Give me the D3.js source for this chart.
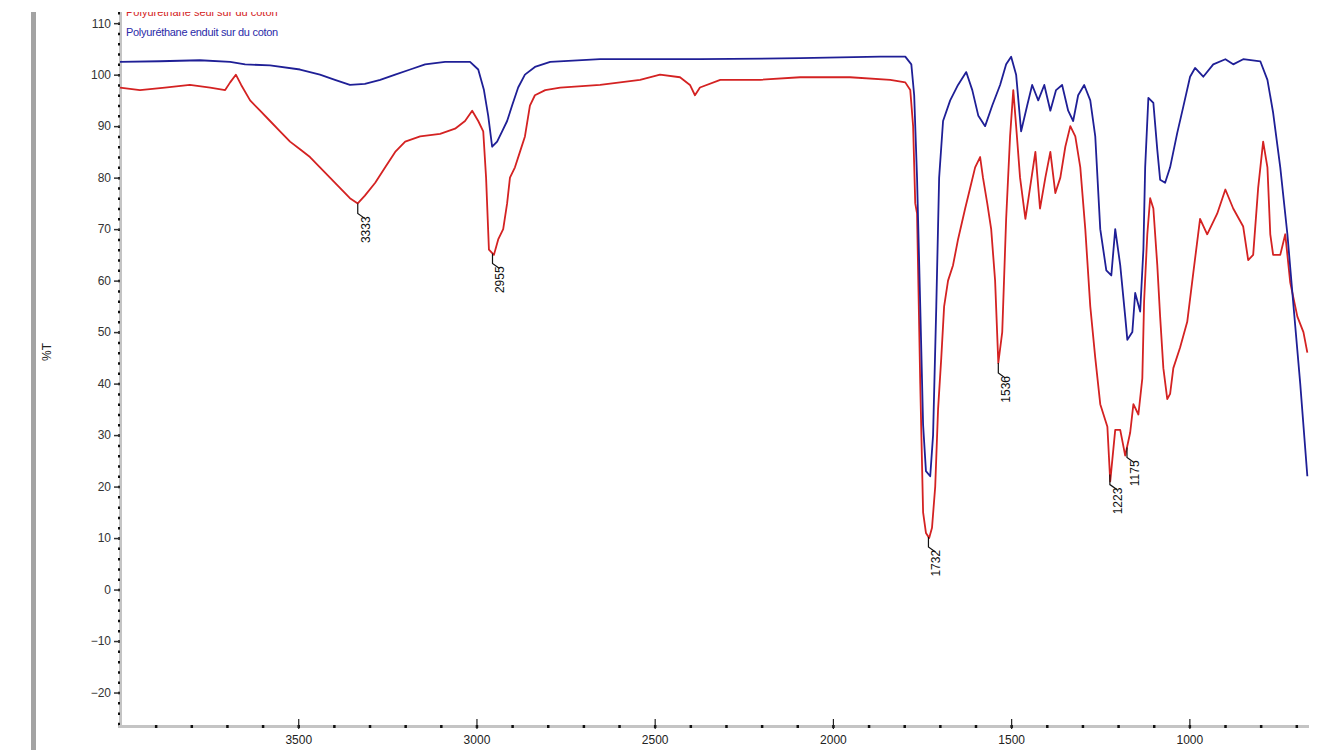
<!DOCTYPE html>
<html>
<head>
<meta charset="utf-8">
<script src="https://cdn.jsdelivr.net/npm/d3@7"></script>
<style>
  html, body { margin: 0; padding: 0; background: #fff; }
  svg { display: block; font-family: "Liberation Sans", Arial, sans-serif; }
</style>
</head>
<body>
<div id="chart"></div>
<script>
// wavenumbers (cm-1) and %T
const waveBlue = [4000, 3888, 3776, 3691, 3649, 3579, 3495, 3439, 3397, 3355, 3313, 3270, 3228, 3186, 3144, 3088, 3018,
  2995, 2979, 2967, 2956, 2942, 2928, 2914, 2900, 2883, 2864, 2836, 2793, 2653, 2373, 2092, 1867, 1797, 1780, 1772,
  1764, 1755, 1747, 1739, 1727, 1719, 1710, 1702, 1691, 1671, 1649, 1626, 1609, 1592, 1573, 1553, 1531, 1514, 1500,
  1486, 1472, 1455, 1441, 1424, 1407, 1390, 1374, 1357, 1340, 1326, 1312, 1295, 1278, 1264, 1250, 1233, 1219, 1208,
  1194, 1180, 1174, 1160, 1152, 1138, 1129, 1124, 1115, 1101, 1090, 1082, 1068, 1054, 1034, 1017, 998, 984, 961,
  933, 899, 877, 849, 801, 781, 765, 745, 725, 709, 689, 669];
const tBlue = [102.5, 102.6, 102.8, 102.5, 102, 101.8, 101, 100, 99, 98, 98.2, 99, 100, 101, 102, 102.5, 102.5,
  101, 97, 92, 86, 87, 89, 91, 94, 97.5, 100, 101.5, 102.5, 103, 103, 103.2, 103.5, 103.5, 102, 96,
  80, 55, 32, 23, 22, 30, 55, 80, 91, 95, 98, 100.5, 97, 92, 90, 94, 98, 102, 103.5,
  100, 89, 94, 98, 95, 98, 93, 97, 98, 93, 91, 96, 98, 95, 88, 70, 62, 61, 70,
  63, 53, 48.5, 50, 57.6, 54, 66, 82, 95.5, 94.5, 85.4, 79.6, 79, 82, 88.7, 93.8, 99.6, 101.3, 99.6,
  102, 103, 102, 103, 102.6, 99, 92.6, 82, 69, 56, 40, 22];

const waveRed = [4000, 3944, 3874, 3804, 3747, 3705, 3691, 3675, 3660, 3635, 3607, 3579, 3551, 3523, 3495, 3467, 3439,
  3411, 3383, 3355, 3333, 3313, 3284, 3256, 3228, 3200, 3158, 3102, 3060, 3032, 3012, 2995, 2981, 2973, 2965, 2951,
  2939, 2925, 2914, 2906, 2892, 2878, 2864, 2850, 2836, 2807, 2765, 2653, 2541, 2485, 2429, 2401, 2387, 2373, 2316,
  2204, 2092, 1952, 1839, 1797, 1783, 1775, 1769, 1764, 1755, 1747, 1739, 1730, 1722, 1713, 1705, 1696, 1688, 1677,
  1663, 1649, 1629, 1615, 1601, 1587, 1579, 1567, 1556, 1545, 1536, 1525, 1514, 1503, 1494, 1486, 1475, 1460, 1447,
  1432, 1419, 1404, 1390, 1376, 1362, 1348, 1334, 1320, 1306, 1292, 1278, 1264, 1250, 1230, 1222, 1208, 1194, 1180,
  1166, 1157, 1143, 1132, 1127, 1118, 1110, 1101, 1090, 1082, 1073, 1062, 1054, 1045, 1026, 1006, 989, 970, 950, 922,
  899, 877, 849, 835, 821, 807, 793, 781, 773, 765, 745, 731, 717, 697, 680, 669];
const tRed = [97.5, 97, 97.5, 98, 97.5, 97, 98.5, 100, 98, 95, 93, 91, 89, 87, 85.5, 84, 82,
  80, 78, 76, 75, 76.5, 79, 82, 85, 87, 88, 88.5, 89.5, 91, 93, 91, 89, 80, 66, 65,
  68, 70, 75, 80, 82, 85, 88, 94, 96, 97, 97.5, 98, 99, 100, 99.5, 98, 96, 97.5, 99,
  99, 99.5, 99.5, 99, 98.5, 97, 90, 75, 73, 40, 15, 11, 10, 12, 20, 35, 45, 55, 60,
  63, 68, 74, 78, 82, 84, 80, 75, 70, 60, 44, 50, 72, 88, 97, 90, 80, 72, 78,
  85, 74, 80, 85, 77, 80, 86, 90, 88, 82, 70, 55, 45, 36, 31.6, 21, 31, 31, 26,
  30.5, 36, 34, 41, 56, 69, 76, 74, 63, 53, 43, 37, 38, 43, 47, 52, 61.5, 72, 69, 73,
  77.7, 74, 70.5, 64, 65, 78, 87, 82, 69, 65, 65, 69, 59.6, 53, 50, 46];

const peakWaves = [3333, 2955, 1732, 1536, 1223, 1175];
const peakLabels = ['3333', '2955', '1732', '1536', '1223', '1175'];

const xMajor = [3500, 3000, 2500, 2000, 1500, 1000];
const xMinor = d3.range(3900, 600, -100);
const yMajor = d3.range(-20, 111, 10);
const yMinor = d3.range(-26, 115, 2);

const legendBlue = 'Polyuréthane enduit sur du coton';
const legendRed = 'Polyuréthane seul sur du coton';

const width = 1326, height = 750;
const viewTop = 12;
const svg = d3.select('#chart').append('svg')
    .attr('width', width)
    .attr('height', height);

// the captured window starts a little below the top edge
svg.append('clipPath').attr('id', 'view')
  .append('rect')
    .attr('x', 0).attr('y', viewTop)
    .attr('width', width).attr('height', height - viewTop);

const root = svg.append('g').attr('clip-path', 'url(#view)');

// window edge on the left
root.append('rect')
    .attr('x', 31).attr('y', 0)
    .attr('width', 5).attr('height', height)
    .attr('fill', '#a3a3a3');

const x = d3.scaleLinear().domain([4000, 670]).range([120, 1307]);
const y = d3.scaleLinear().domain([-26.5, 114.5]).range([726, 0]);

const axisColor = '#c4c4c4';

// y axis
const gy = root.append('g').attr('transform', 'translate(120,0)');
gy.call(d3.axisLeft(y).tickValues(yMinor).tickSize(2).tickFormat(''));
gy.selectAll('.tick line').attr('stroke', '#111').attr('stroke-width', 2.5);
gy.select('.domain').attr('stroke', axisColor).attr('stroke-width', 3);
const gyMajor = root.append('g').attr('transform', 'translate(120,0)')
    .call(d3.axisLeft(y).tickValues(yMajor).tickSize(6).tickPadding(3));
gyMajor.select('.domain').remove();
gyMajor.selectAll('.tick line').attr('stroke', '#333').attr('stroke-width', 1.5);
gyMajor.selectAll('.tick text')
    .attr('fill', '#333')
    .style('font-size', '12px')
    .style('font-family', '"Liberation Sans", Arial, sans-serif');

// x axis
const gx = root.append('g').attr('transform', 'translate(0,726)');
gx.call(d3.axisBottom(x).tickValues(xMinor).tickSize(2).tickFormat(''));
gx.selectAll('.tick line').attr('y1', -1).attr('stroke', '#111').attr('stroke-width', 2.5);
gx.select('.domain').attr('stroke', axisColor).attr('stroke-width', 3);
const gxMajor = root.append('g').attr('transform', 'translate(0,726)')
    .call(d3.axisBottom(x).tickValues(xMajor).tickSize(3).tickPadding(6).tickFormat(d3.format('d')));
gxMajor.select('.domain').remove();
gxMajor.selectAll('.tick line').attr('y1', -7).attr('stroke', '#222').attr('stroke-width', 1.2);
gxMajor.selectAll('.tick text')
    .attr('fill', '#222')
    .style('font-size', '12px')
    .style('font-family', '"Liberation Sans", Arial, sans-serif');

root.append('text')
    .attr('transform', 'translate(51,352) rotate(-90)')
    .attr('text-anchor', 'middle')
    .attr('fill', '#222')
    .style('font-size', '12px')
    .text('%T');

// spectra
const line = d3.line()
    .x(d => x(d[0]))
    .y(d => y(d[1]));

root.append('path')
    .datum(d3.zip(waveRed, tRed))
    .attr('fill', 'none')
    .attr('stroke', '#d42222')
    .attr('stroke-width', 1.8)
    .attr('stroke-linejoin', 'round')
    .attr('d', line);

root.append('path')
    .datum(d3.zip(waveBlue, tBlue))
    .attr('fill', 'none')
    .attr('stroke', '#1f1f96')
    .attr('stroke-width', 1.8)
    .attr('stroke-linejoin', 'round')
    .attr('d', line);

// peak labels on the red trace
const redAt = w => {
    const xs = waveRed.slice().reverse();
    const ys = tRed.slice().reverse();
    const i = Math.max(1, d3.bisectLeft(xs, w));
    const t = (w - xs[i - 1]) / (xs[i] - xs[i - 1]);
    return ys[i - 1] + t * (ys[i] - ys[i - 1]);
};

const peaks = root.append('g');
peakWaves.forEach((w, i) => {
    const px = x(w), py = y(redAt(w));
    peaks.append('path')
        .attr('d', `M${px},${py}V${py + 10}L${px + 7},${py + 15}`)
        .attr('fill', 'none')
        .attr('stroke', '#111')
        .attr('stroke-width', 1.2);
    peaks.append('text')
        .attr('transform', `translate(${px + 12},${py + 13}) rotate(-90)`)
        .attr('text-anchor', 'end')
        .attr('fill', '#111')
        .style('font-size', '12px')
        .text(peakLabels[i]);
});

// legend (the red one is cut by the window top, as in the capture)
root.append('text')
    .attr('x', 126).attr('y', 16)
    .attr('fill', '#d42222')
    .style('font-size', '11px')
    .text(legendRed);
root.append('text')
    .attr('x', 126).attr('y', 36)
    .attr('fill', '#2a2aa8')
    .style('font-size', '11px')
    .style('letter-spacing', '-0.3px')
    .text(legendBlue);
</script>
</body>
</html>
